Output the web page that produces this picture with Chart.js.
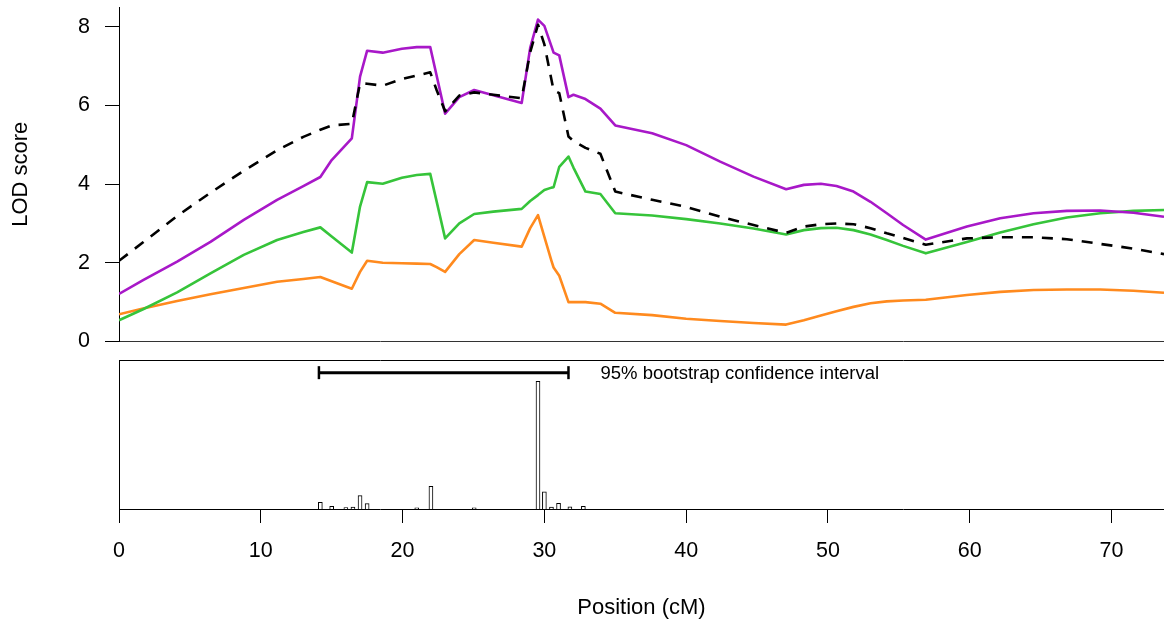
<!DOCTYPE html>
<html>
<head>
<meta charset="utf-8">
<script src="https://cdn.jsdelivr.net/npm/chart.js@4"></script>
<style>
  body { margin: 0; background: #fff; }
  #wrap { position: relative; width: 1164px; height: 622px; background: #fff; }
  #lodChart { position: absolute; left: 0; top: 0; }
  #bootChart { position: absolute; left: 0; top: 350px; }
</style>
</head>
<body>
<div id="wrap">
  <canvas id="lodChart" width="1164" height="350"></canvas>
  <canvas id="bootChart" width="1164" height="272"></canvas>
</div>
<script>
// positions along the chromosome (cM), shared by all four LOD curves
const positions = [0, 1.7, 4.1, 6.45, 8.8, 11.15, 13.0, 14.2, 15.0, 16.42, 17.0, 17.5, 18.6, 19.95,
  21.0, 21.95, 22.4, 23.0, 24.0, 25.05, 26.4, 28.4, 29.0, 29.55, 30.0, 30.5, 30.65, 31.05, 31.7,
  32.05, 32.9, 33.95, 35.0, 37.6, 40.0, 42.4, 44.75, 47.05, 48.3, 49.5, 50.6, 51.8, 53.0, 54.15,
  55.3, 56.9, 59.8, 62.15, 64.5, 66.85, 69.2, 71.55, 73.7];

const lodDashed = [2.05, 2.52, 3.19, 3.78, 4.34, 4.86, 5.20, 5.38, 5.49, 5.53, 6.56, 6.55, 6.50, 6.67,
  6.76, 6.84, 6.39, 5.85, 6.25, 6.33, 6.27, 6.18, 7.35, 8.05, 7.55, 6.65, 6.38, 6.31, 5.21,
  5.10, 4.92, 4.77, 3.81, 3.60, 3.42, 3.17, 2.96, 2.76, 2.92, 2.98, 3.00, 2.98, 2.88, 2.75,
  2.63, 2.46, 2.62, 2.65, 2.65, 2.60, 2.48, 2.36, 2.22];

const lodPurple = [1.21, 1.56, 2.03, 2.53, 3.09, 3.60, 3.95, 4.18, 4.61, 5.16, 6.73, 7.39, 7.34, 7.44,
  7.48, 7.48, 6.76, 5.79, 6.21, 6.39, 6.26, 6.06, 7.46, 8.18, 8.02, 7.50, 7.34, 7.27, 6.21,
  6.27, 6.16, 5.92, 5.49, 5.29, 4.99, 4.57, 4.19, 3.87, 3.98, 4.01, 3.95, 3.81, 3.55, 3.26,
  2.96, 2.59, 2.92, 3.13, 3.26, 3.32, 3.33, 3.27, 3.17];

const lodGreen = [0.54, 0.82, 1.25, 1.73, 2.20, 2.58, 2.78, 2.90, 2.67, 2.26, 3.43, 4.05, 4.01, 4.16,
  4.23, 4.26, 3.56, 2.62, 3.00, 3.24, 3.30, 3.37, 3.57, 3.72, 3.85, 3.91, 3.92, 4.44, 4.70,
  4.42, 3.81, 3.75, 3.26, 3.20, 3.11, 3.00, 2.87, 2.72, 2.83, 2.88, 2.89, 2.83, 2.72, 2.58,
  2.43, 2.24, 2.53, 2.77, 2.98, 3.15, 3.26, 3.32, 3.34];

const lodOrange = [0.69, 0.84, 1.03, 1.20, 1.36, 1.52, 1.59, 1.64, 1.53, 1.34, 1.77, 2.05, 2.00, 1.99,
  1.98, 1.97, 1.89, 1.77, 2.22, 2.58, 2.51, 2.41, 2.88, 3.21, 2.66, 2.05, 1.88, 1.67, 1.00,
  1.00, 1.00, 0.96, 0.73, 0.67, 0.58, 0.52, 0.47, 0.43, 0.54, 0.66, 0.77, 0.88, 0.97, 1.02,
  1.04, 1.06, 1.18, 1.26, 1.31, 1.32, 1.32, 1.29, 1.24];

// bootstrap peak locations
const bootPos = [14.2, 15.0, 16.0, 16.5, 17.0, 17.5, 21.0, 22.0, 25.05, 29.55, 30.0, 30.5, 31.0, 31.8, 32.75];
const bootCount = [5, 2, 1, 1.5, 10, 4, 0.8, 17, 0.8, 96, 13, 1.5, 4.3, 1.7, 2];

const ciLow = 14.1;
const ciHigh = 31.7;
const ciText = '95% bootstrap confidence interval';

const xTicks = [0, 10, 20, 30, 40, 50, 60, 70];
const yTicks = [0, 2, 4, 6, 8];
const xMax = 73.7;
const lodMax = 8.5;
const bootMax = 112;

const fontFamily = '"Liberation Sans", Arial, Helvetica, sans-serif';
Chart.defaults.font.family = fontFamily;
Chart.defaults.color = '#000';

const pinWidth = w => s => { s.width = w; s.paddingTop = 0; s.paddingBottom = 0; };
const pinHeight = h => s => { s.height = h; s.paddingLeft = 0; s.paddingRight = 0; };
const setTicks = list => s => { s.ticks = list.map(v => ({ value: v })); };

const toPoints = vals => positions.map((x, i) => ({ x: x, y: vals[i] }));

const lineStyle = {
  pointRadius: 0,
  borderWidth: 2.6,
  tension: 0,
  fill: false,
  borderJoinStyle: 'round'
};

new Chart(document.getElementById('lodChart'), {
  type: 'line',
  data: {
    datasets: [
      Object.assign({ data: toPoints(lodDashed), borderColor: '#000', borderDash: [11, 9] }, lineStyle),
      Object.assign({ data: toPoints(lodPurple), borderColor: '#a818c8' }, lineStyle),
      Object.assign({ data: toPoints(lodGreen), borderColor: '#36c43a' }, lineStyle),
      Object.assign({ data: toPoints(lodOrange), borderColor: '#ff8a1e' }, lineStyle)
    ]
  },
  options: {
    responsive: false,
    devicePixelRatio: 1,
    animation: false,
    layout: { autoPadding: false, padding: { top: 7, left: 0, right: 0, bottom: 0 } },
    plugins: { legend: { display: false }, tooltip: { enabled: false } },
    scales: {
      x: {
        type: 'linear', min: 0, max: xMax,
        afterBuildTicks: setTicks(xTicks),
        afterFit: pinHeight(8.5),
        ticks: { display: false },
        grid: { display: false },
        border: { display: true, color: '#333', width: 1 }
      },
      y: {
        min: 0, max: lodMax,
        afterBuildTicks: setTicks(yTicks),
        afterFit: pinWidth(119),
        ticks: { font: { size: 21.5 }, padding: 15, color: '#000' },
        grid: { drawOnChartArea: false, tickLength: 14, color: '#000' },
        border: { display: true, color: '#000', width: 1 },
        title: { display: true, text: 'LOD score', font: { size: 22 }, padding: { top: 8 }, color: '#000' }
      }
    }
  }
});

const ciLevel = bootMax * 0.915;

const ciLabel = {
  id: 'ciLabel',
  afterDatasetsDraw(chart) {
    const { ctx, scales } = chart;
    ctx.save();
    ctx.font = '18.5px ' + fontFamily;
    ctx.fillStyle = '#000';
    ctx.textBaseline = 'middle';
    ctx.fillText(ciText, scales.x.getPixelForValue(ciHigh) + 32, scales.y.getPixelForValue(ciLevel) + 1);
    ctx.restore();
  }
};

new Chart(document.getElementById('bootChart'), {
  type: 'bar',
  data: {
    datasets: [
      {
        type: 'line',
        data: [{ x: ciLow, y: ciLevel }, { x: ciHigh, y: ciLevel }],
        borderColor: '#000', borderWidth: 3,
        pointStyle: 'line', pointRotation: 90, pointRadius: 6.5,
        pointBorderWidth: 2.5, pointBorderColor: '#000',
        order: 0
      },
      {
        type: 'bar',
        data: bootPos.map((x, i) => ({ x: x, y: bootCount[i] })),
        backgroundColor: '#fff', borderColor: '#000', borderWidth: 1,
        barThickness: 4,
        order: 1
      }
    ]
  },
  options: {
    responsive: false,
    devicePixelRatio: 1,
    animation: false,
    layout: { autoPadding: false, padding: { top: 10, left: 0, right: 0, bottom: 0 } },
    plugins: { legend: { display: false }, tooltip: { enabled: false } },
    scales: {
      x: {
        type: 'linear', min: 0, max: xMax, offset: false,
        afterBuildTicks: setTicks(xTicks),
        afterFit: pinHeight(113),
        ticks: { font: { size: 21.5 }, padding: 15, autoSkip: false, maxRotation: 0, color: '#000' },
        grid: { drawOnChartArea: false, tickLength: 14, color: '#000', offset: false },
        border: { display: true, color: '#000', width: 1 },
        title: { display: true, text: 'Position (cM)', font: { size: 22 }, padding: { top: 0, bottom: 1 }, color: '#000' }
      },
      xTop: {
        axis: 'x', position: 'top', type: 'linear', min: 0, max: xMax,
        afterFit: pinHeight(0),
        ticks: { display: false },
        grid: { display: false },
        border: { display: true, color: '#000', width: 1 }
      },
      y: {
        min: 0, max: bootMax,
        afterFit: pinWidth(119),
        ticks: { display: false },
        grid: { display: false },
        border: { display: true, color: '#000', width: 1 }
      }
    }
  },
  plugins: [ciLabel]
});
</script>
</body>
</html>
